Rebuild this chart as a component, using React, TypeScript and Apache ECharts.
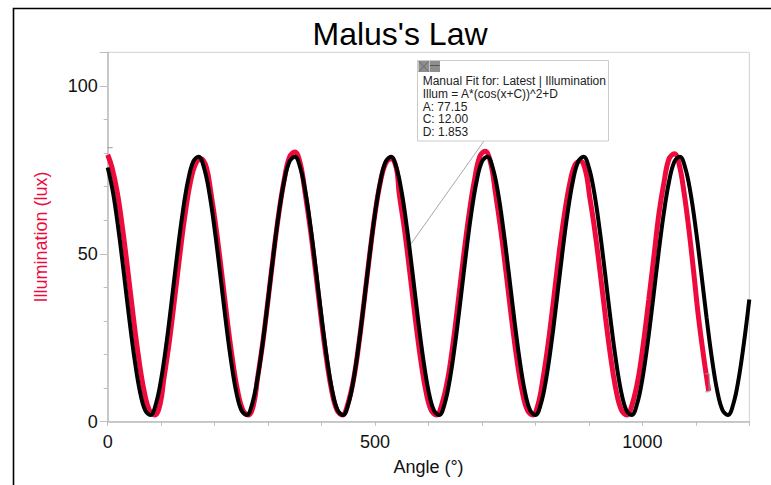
import React, { useEffect, useRef } from "react";
import * as echarts from "echarts";

const FONT = '"Liberation Sans", Arial, Helvetica, sans-serif';

const TITLE = "Malus's Law";
const X_NAME = "Angle (°)";
const Y_NAME = "Illumination (lux)";
const X_TICK_LABELS = [0, 500, 1000];
const Y_TICK_LABELS = [0, 50, 100];
const FIT_LINES = [
  "Manual Fit for: Latest | Illumination",
  "Illum = A*(cos(x+C))^2+D",
  "A: 77.15",
  "C: 12.00",
  "D: 1.853",
];

const redAngle = [
  0, 8,
  18, 28, 38, 48, 58, 68, 78, 88, 98,
  105, 115, 125, 135, 145, 155, 165, 175, 185,
  193, 203, 213, 223, 233, 243, 253, 263, 273,
  280, 290, 300, 310, 320, 330, 340, 350, 360,
  369, 379, 389, 399, 409, 419, 429, 439, 449,
  460, 470, 480, 490, 500, 510, 520, 530, 540,
  545, 555, 565, 575, 585, 595, 605, 615, 625,
  636, 646, 656, 666, 676, 686, 696, 706, 716,
  725, 735, 745, 755, 765, 775, 785, 795, 805,
  814, 824, 834, 844, 854, 864, 874, 884, 894,
  901, 911, 921, 931, 941, 951, 961, 971, 981,
  992, 1002, 1012, 1022, 1031, 1041, 1050, 1060, 1069,
  1078, 1087, 1096, 1105, 1115, 1124,
];
const redIllum = [
  79.5, 75.7,
  68.2, 57.3, 44.5, 31.1, 18.9, 9.2, 3.4, 2.0, 5.2,
  12.7, 23.5, 36.4, 49.8, 62.0, 71.6, 77.0, 78.3, 75.5,
  68.2, 57.3, 44.5, 31.1, 18.9, 9.2, 3.4, 2.0, 5.2,
  12.7, 23.5, 36.4, 49.8, 62.0, 71.9, 78.8, 80.3, 77.0,
  68.4, 57.3, 44.5, 31.1, 18.9, 9.2, 3.4, 2.0, 5.2,
  12.7, 23.5, 36.4, 49.8, 62.0, 71.4, 77.0, 78.3, 75.4,
  68.2, 57.3, 44.5, 31.1, 18.9, 9.2, 3.4, 2.0, 5.2,
  12.7, 23.5, 36.4, 49.8, 62.0, 72.0, 79.0, 80.5, 77.2,
  68.4, 57.3, 44.5, 31.1, 18.9, 9.2, 3.4, 2.0, 5.2,
  12.7, 23.5, 36.4, 49.8, 61.5, 70.8, 76.5, 77.6, 74.5,
  67.5, 57.0, 44.5, 31.1, 18.9, 9.2, 3.4, 2.0, 5.2,
  12.7, 23.5, 36.4, 49.8, 62.0, 71.8, 78.3, 79.8, 76.5,
  68.2, 57.3, 44.5, 31.1, 18.9, 9.2,
];

// Manual fit curve (black), sampled every 10 degrees from 0 to 1200
const FIT_STEP = 10;
const fitIllum = [
  75.7, 68.2, 57.3, 44.5, 31.1, 18.9, 9.2, 3.4, 2.0, 5.2, 12.7, 23.5, 36.4, 49.8, 62.0, 71.6, 77.5, 78.9,
  75.7, 68.2, 57.3, 44.5, 31.1, 18.9, 9.2, 3.4, 2.0, 5.2, 12.7, 23.5, 36.4, 49.8, 62.0, 71.6, 77.5, 78.9,
  75.7, 68.2, 57.3, 44.5, 31.1, 18.9, 9.2, 3.4, 2.0, 5.2, 12.7, 23.5, 36.4, 49.8, 62.0, 71.6, 77.5, 78.9,
  75.7, 68.2, 57.3, 44.5, 31.1, 18.9, 9.2, 3.4, 2.0, 5.2, 12.7, 23.5, 36.4, 49.8, 62.0, 71.6, 77.5, 78.9,
  75.7, 68.2, 57.3, 44.5, 31.1, 18.9, 9.2, 3.4, 2.0, 5.2, 12.7, 23.5, 36.4, 49.8, 62.0, 71.6, 77.5, 78.9,
  75.7, 68.2, 57.3, 44.5, 31.1, 18.9, 9.2, 3.4, 2.0, 5.2, 12.7, 23.5, 36.4, 49.8, 62.0, 71.6, 77.5, 78.9,
  75.7, 68.2, 57.3, 44.5, 31.1, 18.9, 9.2, 3.4, 2.0, 5.2, 12.7, 23.5, 36.4,
];
const LEADER_POINT = [563, 52];

const RED = "#ee0a3c";
const GREY_AXIS = "#bdbdbd";

export default function App() {
  const ref = useRef<HTMLDivElement>(null);

  useEffect(() => {
    if (!ref.current) return;
    const chart = echarts.init(ref.current, undefined, { renderer: "svg" });

    const redData = redAngle.map((a, i) => [a, redIllum[i]]);
    const fitData = fitIllum.map((v, i) => [i * FIT_STEP, v]);

    const labelFont = { fontFamily: FONT, fontSize: 18, color: "#111" };

    chart.setOption({
      animation: false,
      backgroundColor: "#ffffff",
      grid: {
        left: 107.7,
        right: 21.7,
        top: 52.3,
        bottom: 63.3,
        show: true,
        borderColor: "#d0d0d0",
        borderWidth: 1,
        backgroundColor: "transparent",
      },
      xAxis: {
        type: "value",
        min: 0,
        max: 1200,
        interval: 100,
        name: X_NAME,
        nameLocation: "middle",
        nameGap: 36,
        nameTextStyle: { fontFamily: FONT, fontSize: 18, color: "#111" },
        axisLine: { show: true, lineStyle: { color: GREY_AXIS, width: 1.5 } },
        axisTick: { show: true, length: 4, lineStyle: { color: GREY_AXIS, width: 1 } },
        axisLabel: {
          ...labelFont,
          margin: 11,
          formatter: (v: number) => (X_TICK_LABELS.includes(v) ? String(v) : ""),
        },
        splitLine: { show: false },
      },
      yAxis: [
        {
          type: "value",
          min: 0,
          max: 110,
          interval: 10,
          position: "left",
          name: Y_NAME,
          nameLocation: "middle",
          nameRotate: 90,
          nameGap: 58,
          nameTextStyle: { fontFamily: FONT, fontSize: 18, color: RED },
          axisLine: { show: true, lineStyle: { color: GREY_AXIS, width: 1.5 } },
          axisTick: { show: true, length: 4, lineStyle: { color: GREY_AXIS, width: 1 } },
          axisLabel: {
            ...labelFont,
            margin: 10,
            formatter: (v: number) => (Y_TICK_LABELS.includes(v) ? String(v) : ""),
          },
          splitLine: { show: false },
        },
        {
          type: "value",
          min: 0,
          max: 110,
          interval: 50,
          position: "left",
          axisLine: { show: false },
          axisTick: { show: true, length: 8, lineStyle: { color: GREY_AXIS, width: 1 } },
          axisLabel: { show: false },
          splitLine: { show: false },
        },
      ],
      series: [
        {
          name: "Illumination",
          type: "line",
          data: redData,
          smooth: 0.4,
          symbol: "none",
          lineStyle: { color: RED, width: 5 },
          z: 2,
        },
        {
          name: "Manual Fit",
          type: "line",
          data: fitData,
          smooth: 0.4,
          symbol: "none",
          lineStyle: { color: "#000000", width: 4 },
          z: 3,
        },
      ],
    });

    const leader = chart.convertToPixel({ gridIndex: 0 }, LEADER_POINT) as number[];
    const startP = chart.convertToPixel({ gridIndex: 0 }, redData[0]) as number[];
    const endP = chart.convertToPixel({ gridIndex: 0 }, redData[redData.length - 1]) as number[];

    const boxX = 417.5;
    const boxY = 60.5;
    const boxW = 191;
    const boxH = 80.5;

    const graphics: any[] = [
      {
        type: "rect",
        shape: { x: 13.5, y: 8.5, width: 820, height: 520 },
        style: { fill: "none", stroke: "#000", lineWidth: 1.6 },
        silent: true,
      },
      {
        type: "text",
        x: 400,
        y: 33.5,
        style: {
          text: TITLE,
          fontFamily: FONT,
          fontSize: 32,
          fill: "#000",
          align: "center",
          verticalAlign: "middle",
        },
      },
      {
        type: "line",
        shape: { x1: 484, y1: boxY + boxH, x2: leader[0], y2: leader[1] },
        style: { stroke: "#a8a8a8", lineWidth: 1 },
        z: 1,
      },
      {
        type: "rect",
        shape: { x: boxX, y: boxY, width: boxW, height: boxH },
        style: { fill: "#fff", stroke: "#cbcbcb", lineWidth: 1 },
        z: 10,
      },
      {
        type: "rect",
        shape: { x: 418.5, y: 61, width: 10.5, height: 11 },
        style: { fill: "#8e8e8e" },
        z: 11,
      },
      {
        type: "line",
        shape: { x1: 419, y1: 61.5, x2: 428.5, y2: 71.5 },
        style: { stroke: "#6a6a6a", lineWidth: 1 },
        z: 12,
      },
      {
        type: "line",
        shape: { x1: 428.5, y1: 61.5, x2: 419, y2: 71.5 },
        style: { stroke: "#6a6a6a", lineWidth: 1 },
        z: 12,
      },
      {
        type: "rect",
        shape: { x: 429.5, y: 61, width: 10.5, height: 11 },
        style: { fill: "#8e8e8e" },
        z: 11,
      },
      {
        type: "line",
        shape: { x1: 430, y1: 65.5, x2: 439.5, y2: 65.5 },
        style: { stroke: "#555", lineWidth: 1 },
        z: 12,
      },
      ...FIT_LINES.map((t, i) => ({
        type: "text",
        x: 422.7,
        y: 81 + i * 12.8,
        z: 12,
        style: {
          text: t,
          fontFamily: FONT,
          fontSize: 12,
          fill: "#222",
          align: "left",
          verticalAlign: "middle",
        },
      })),
      {
        type: "polyline",
        shape: {
          points: [
            [startP[0], startP[1] - 7],
            [startP[0] + 5, startP[1] - 7],
          ],
        },
        style: { stroke: "#999", lineWidth: 1, fill: "none" },
        z: 5,
      },
      {
        type: "polyline",
        shape: {
          points: [
            [endP[0] - 3.5, endP[1] - 17],
            [endP[0] + 0.5, endP[1] - 17],
            [endP[0] + 0.5, endP[1] + 1],
            [endP[0] - 3.5, endP[1] + 1],
          ],
        },
        style: { stroke: "#999", lineWidth: 1, fill: "none" },
        z: 5,
      },
    ];

    chart.setOption({ graphic: graphics });

    return () => {
      chart.dispose();
    };
  }, []);

  return (
    <div
      ref={ref}
      style={{ position: "fixed", left: 0, top: 0, width: 771, height: 485, background: "#fff" }}
    />
  );
}
